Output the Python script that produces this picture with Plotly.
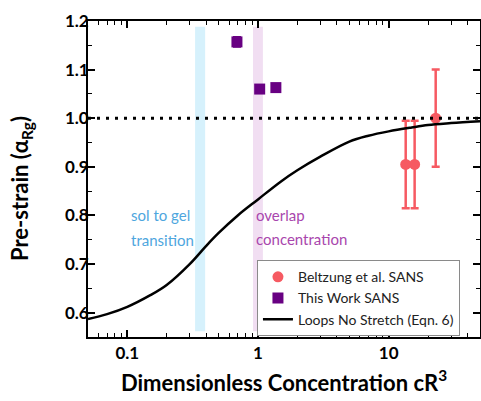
import plotly.graph_objects as go

# ---- data ----
beltzung_x = [13.5, 15.8, 22.9]
beltzung_y = [0.905, 0.905, 1.0]
beltzung_err = [0.09, 0.09, 0.10]

thiswork_x = [0.69, 1.03, 1.37]
thiswork_y = [1.157, 1.060, 1.063]
thiswork_err = [0.010, 0.004, 0.004]

model_x = [0.05, 0.07, 0.1, 0.15, 0.2, 0.3, 0.4, 0.5, 0.7, 1.0, 1.5, 2.0, 3.0,
           5.0, 7.0, 10.0, 15.0, 20.0, 30.0, 50.0]
model_y = [0.587, 0.597, 0.612, 0.636, 0.657, 0.700, 0.737, 0.764, 0.800, 0.833,
           0.870, 0.893, 0.921, 0.952, 0.964, 0.973, 0.981, 0.986, 0.990, 0.994]

sol_gel_band = [0.33, 0.394]
overlap_band = [0.916, 1.09]
band_y = [0.562, 1.188]

x_ticks = [0.1, 1, 10]
x_tick_text = ["0.1", "1", "10"]
y_ticks = [0.6, 0.7, 0.8, 0.9, 1.0, 1.1, 1.2]

FONT = "Lato"
RED = "#f65a62"
PURPLE = "#680082"

fig = go.Figure()

fig.add_trace(go.Scatter(
    x=beltzung_x, y=beltzung_y, mode="markers", name="Beltzung et al. SANS",
    marker=dict(symbol="circle", size=11, color=RED),
    error_y=dict(type="data", array=beltzung_err, color=RED, thickness=2.5, width=4),
))
fig.add_trace(go.Scatter(
    x=thiswork_x, y=thiswork_y, mode="markers", name="This Work SANS",
    marker=dict(symbol="square", size=11, color=PURPLE),
    error_y=dict(type="data", array=thiswork_err, color=PURPLE, thickness=2, width=4),
))
fig.add_trace(go.Scatter(
    x=model_x, y=model_y, mode="lines", name="Loops No Stretch (Eqn. 6)",
    line=dict(color="black", width=2.5, shape="spline"),
))

shapes = [
    dict(type="rect", xref="x", yref="y", layer="below", line=dict(width=0),
         x0=sol_gel_band[0], x1=sol_gel_band[1],
         y0=band_y[0], y1=band_y[1], fillcolor="#d6f1fc"),
    dict(type="rect", xref="x", yref="y", layer="below", line=dict(width=0),
         x0=overlap_band[0], x1=overlap_band[1],
         y0=band_y[0], y1=band_y[1], fillcolor="#f1def2"),
    dict(type="line", xref="paper", yref="y", x0=0, x1=1, y0=1.0, y1=1.0,
         line=dict(color="black", width=3, dash="3px,6px"), layer="above"),
]

annotations = [
    dict(x=-0.99, y=0.80, xref="x", yref="y", text="sol to gel",
         showarrow=False, xanchor="left", yanchor="middle",
         font=dict(family=FONT, size=15, color="#4ea6de")),
    dict(x=-0.99, y=0.749, xref="x", yref="y", text="transition",
         showarrow=False, xanchor="left", yanchor="middle",
         font=dict(family=FONT, size=15, color="#4ea6de")),
    dict(x=-0.03, y=0.80, xref="x", yref="y", text="overlap",
         showarrow=False, xanchor="left", yanchor="middle",
         font=dict(family=FONT, size=15, color="#a946ad")),
    dict(x=-0.03, y=0.751, xref="x", yref="y", text="concentration",
         showarrow=False, xanchor="left", yanchor="middle",
         font=dict(family=FONT, size=15, color="#a946ad")),
    dict(x=-0.171, y=0.4715, xref="paper", yref="paper", textangle=-90,
         text="Pre-strain (α<sub>Rg</sub>)", showarrow=False,
         xanchor="center", yanchor="middle",
         font=dict(family=FONT, size=22, color="black", weight="bold")),
]

minor_x = [m * 10 ** e for e in (-2, -1, 0, 1) for m in range(2, 10)]

fig.update_layout(
    width=481, height=401,
    margin=dict(l=88, r=1, t=21, b=64),
    paper_bgcolor="white", plot_bgcolor="white",
    shapes=shapes, annotations=annotations,
    font=dict(family=FONT, color="black"),
    legend=dict(x=0.431, y=0.243, xanchor="left", yanchor="top",
                bgcolor="white", bordercolor="#8a8a8a", borderwidth=1,
                font=dict(family=FONT, size=14, color="#222"),
                tracegroupgap=0),
    showlegend=True,
)
fig.update_xaxes(
    type="log", range=[-1.30103, 1.69897], automargin=False,
    tickvals=x_ticks, ticktext=x_tick_text,
    ticks="inside", ticklen=7, tickwidth=1.5, tickcolor="black",
    minor=dict(tickvals=minor_x, ticks="inside", ticklen=4, tickwidth=1.2, tickcolor="black"),
    showline=True, linecolor="black", linewidth=1.8, mirror="ticks",
    showgrid=False, zeroline=False,
    tickfont=dict(family=FONT, size=17, color="black", weight="bold"),
    title=dict(text="Dimensionless Concentration cR<sup>3</sup>", standoff=13,
               font=dict(family=FONT, size=22, color="black", weight="bold")),
)
fig.update_yaxes(
    range=[0.55, 1.2], automargin=False,
    tickvals=y_ticks, tickformat=".1f",
    ticks="inside", ticklen=7, tickwidth=1.5, tickcolor="black",
    minor=dict(dtick=0.05, ticks="inside", ticklen=4, tickwidth=1.2, tickcolor="black"),
    showline=True, linecolor="black", linewidth=1.8, mirror="ticks",
    showgrid=False, zeroline=False, ticklabelstandoff=-6,
    tickfont=dict(family=FONT, size=17, color="black", weight="bold"),
)

fig.write_html("out.html", config={"displayModeBar": False},
               post_script="document.body.style.margin='0';")
